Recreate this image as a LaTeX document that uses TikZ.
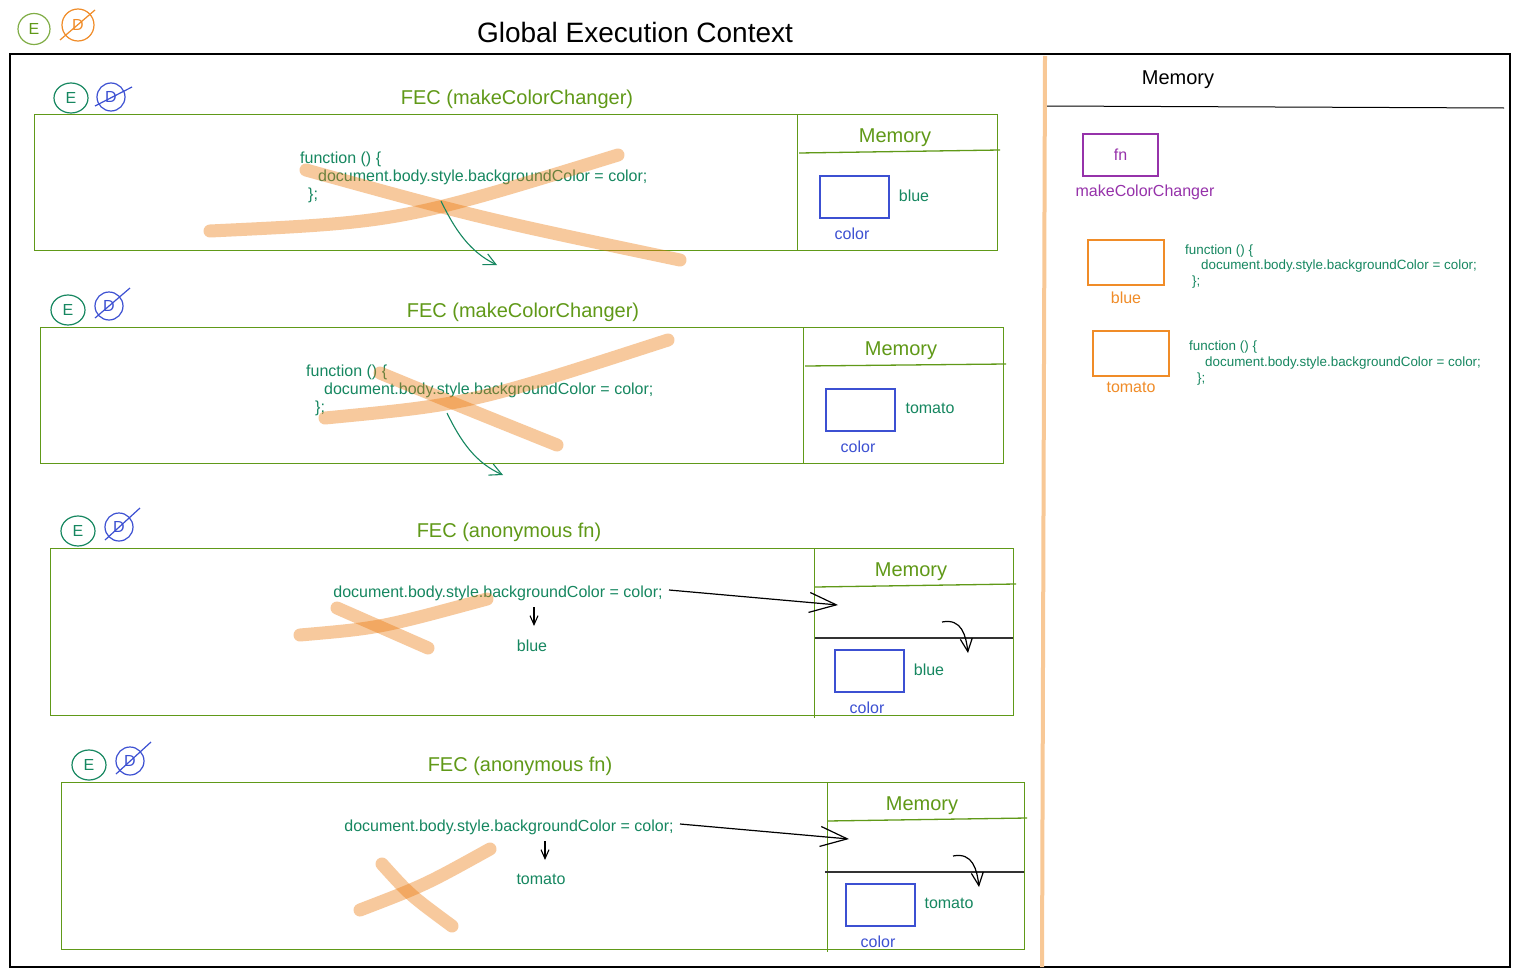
\documentclass[tikz,border=0pt]{standalone}
\usepackage{fontspec}
\setmainfont{Liberation Sans}
\usetikzlibrary{arrows.meta,shapes.geometric}
\definecolor{cOlive}{RGB}{96,153,24}
\definecolor{cTeal}{RGB}{22,135,96}
\definecolor{cBlue}{RGB}{60,80,210}
\definecolor{cPurple}{RGB}{150,50,170}
\definecolor{cOrange}{RGB}{240,140,40}
\definecolor{cCross}{RGB}{235,120,10}
\definecolor{cVert}{RGB}{248,200,150}
\tikzset{
  ttl/.style={font=\fontsize{28}{34}\selectfont},
  hd/.style={font=\fontsize{20}{24}\selectfont, text=cOlive, yshift=-2pt},
  codel/.style={font=\fontsize{16}{19}\selectfont, text=cTeal, anchor=west, inner sep=0pt, yshift=-2pt},
  lbl/.style={font=\fontsize{16}{19}\selectfont, inner sep=0pt, yshift=-1.5pt},
  smallcode/.style={font=\fontsize{13.4}{16}\selectfont, text=cTeal, anchor=west, inner sep=0pt, yshift=-2pt},
  fecbox/.style={draw=cOlive, line width=1pt},
  memline/.style={draw=cOlive, line width=1.3pt},
  cross/.style={draw=cCross, line width=13pt, line cap=round, draw opacity=0.4},
  ecirc/.style={ellipse, draw, line width=1.2pt, minimum width=34pt, minimum height=30pt, inner sep=0pt, font=\fontsize{16}{19}\selectfont},
  dcirc/.style={circle, draw, line width=1.2pt, minimum size=28pt, inner sep=0pt, font=\fontsize{16}{19}\selectfont},
  varbox/.style={draw, line width=1.2pt, inner sep=0pt},
  greenarr/.style={draw=cTeal, line width=1.1pt, -{Straight Barb[length=12pt,width=12pt]}},
  bigarr/.style={draw=black, line width=1.2pt, -{Straight Barb[length=27pt,width=20pt]}},
  smallarr/.style={draw=black, line width=1.1pt, -{Straight Barb[length=9pt,width=8pt]}},
  hookarr/.style={draw=black, line width=1.2pt, -{Straight Barb[length=13pt,width=12pt]}},
}
\begin{document}
\begin{tikzpicture}[x=1pt,y=-1pt]
\useasboundingbox (0,0) rectangle (1520,977);
\fill[white] (0,0) rectangle (1520,977);

% title and frame
\node[ttl] (title) at (635,32) {Global Execution Context};
\draw[black, line width=1.3pt] (10,54) rectangle (1510,967);
\node[ecirc, draw=cOlive!80, text=cOlive, minimum width=32pt, minimum height=31pt] (e0) at (34,29) {E};
\node[dcirc, draw=cOrange, text=cOrange, minimum size=32pt] (d0) at (78,25) {D};
\coordinate (d0a) at (60,40); \coordinate (d0b) at (95,10);
\draw[cOrange, line width=1.2pt] (d0a) -- (d0b);

% vertical separator
\coordinate (vs1) at (1045,56); \coordinate (vs2) at (1042,967);
\draw[cVert, line width=4pt] (vs1) -- (vs2);

% right memory panel
\node[font=\fontsize{20}{24}\selectfont, yshift=-2pt] (gmem) at (1178,78) {Memory};
\coordinate (gl1) at (1047,106); \coordinate (gl2) at (1504,108);
\draw[black, line width=1pt] (gl1) -- (gl2);
\node[varbox, draw=cPurple, text=cPurple, minimum width=75pt, minimum height=42pt, font=\fontsize{16}{19}\selectfont] (fnbox) at (1120.5,155) {fn};
\node[lbl, text=cPurple] (mcc) at (1145,191) {makeColorChanger};
\node[varbox, draw=cOrange, minimum width=76pt, minimum height=45pt] (gblue) at (1126,262.5) {};
\node[lbl, text=cOrange] (gbluet) at (1126,296) {blue};
\node[smallcode] (gc1) at (1185,249) {function () \{};
\node[smallcode] (gc2) at (1201,264.5) {document.body.style.backgroundColor = color;};
\node[smallcode] (gc3) at (1192,280) {\};};
\node[varbox, draw=cOrange, minimum width=76pt, minimum height=45pt] (gtom) at (1131,353.5) {};
\node[lbl, text=cOrange] (gtomt) at (1131,386) {tomato};
\node[smallcode] (gd1) at (1189,345) {function () \{};
\node[smallcode] (gd2) at (1205,361) {document.body.style.backgroundColor = color;};
\node[smallcode] (gd3) at (1197,377) {\};};

% ===== FEC 1 =====
\node[ecirc, draw=cTeal, text=cTeal] (e1) at (71,98) {E};
\node[dcirc, draw=cBlue, text=cBlue] (d1) at (111,97) {D};
\coordinate (d1a) at (95,106); \coordinate (d1b) at (132,87);
\draw[cBlue, line width=1.2pt] (d1a) -- (d1b);
\node[hd] (f1t) at (517,97) {FEC (makeColorChanger)};
\draw[fecbox] (34,114) rectangle (997,250);
\draw[fecbox] (797,114) -- (797,250);
\node[hd] (m1) at (895,136) {Memory};
\draw[memline] (799,153) -- (1000,150);
\node[codel] (c1a) at (300,157) {function () \{};
\node[codel] (c1b) at (318,175) {document.body.style.backgroundColor = color;};
\node[codel] (c1c) at (308,193) {\};};
\node[varbox, draw=cBlue, minimum width=69pt, minimum height=42pt] (v1) at (854.5,197) {};
\node[lbl, text=cTeal] (v1v) at (914,194) {blue};
\node[lbl, text=cBlue] (v1n) at (852,232) {color};
\draw[cross] (210,231) .. controls (400,222) .. (618,155);
\draw[cross] (306,170) .. controls (480,218) .. (680,260);
\coordinate (a1s) at (441,201); \coordinate (a1e) at (497,265);
\draw[greenarr] (a1s) .. controls (455,230) and (470,252) .. (a1e);

% ===== FEC 2 =====
\node[ecirc, draw=cTeal, text=cTeal] (e2) at (68,310) {E};
\node[dcirc, draw=cBlue, text=cBlue] (d2) at (109,306) {D};
\coordinate (d2a) at (95,318); \coordinate (d2b) at (130,288);
\draw[cBlue, line width=1.2pt] (d2a) -- (d2b);
\node[hd] (f2t) at (523,310) {FEC (makeColorChanger)};
\draw[fecbox] (40,327) rectangle (1003,463);
\draw[fecbox] (803,327) -- (803,463);
\node[hd] (m2) at (901,349) {Memory};
\draw[memline] (805,366) -- (1006,364);
\node[codel] (c2a) at (306,370) {function () \{};
\node[codel] (c2b) at (324,388) {document.body.style.backgroundColor = color;};
\node[codel] (c2c) at (315,406) {\};};
\node[varbox, draw=cBlue, minimum width=69pt, minimum height=42pt] (v2) at (860.5,410) {};
\node[lbl, text=cTeal] (v2v) at (930,407) {tomato};
\node[lbl, text=cBlue] (v2n) at (858,445) {color};
\draw[cross] (325,418) .. controls (470,404) .. (668,340);
\draw[cross] (380,373) .. controls (465,408) .. (557,445);
\coordinate (a2s) at (447,413); \coordinate (a2e) at (503,475);
\draw[greenarr] (a2s) .. controls (461,442) and (476,463) .. (a2e);

% ===== FEC 3 =====
\node[ecirc, draw=cTeal, text=cTeal] (e3) at (78,531) {E};
\node[dcirc, draw=cBlue, text=cBlue] (d3) at (119,527) {D};
\coordinate (d3a) at (105,540); \coordinate (d3b) at (140,508);
\draw[cBlue, line width=1.2pt] (d3a) -- (d3b);
\node[hd] (f3t) at (509,530) {FEC (anonymous fn)};
\draw[fecbox] (50,548) rectangle (1013,715);
\draw[fecbox] (814,548) -- (814,718);
\node[hd] (m3) at (911,570) {Memory};
\draw[memline] (815,587) -- (1016,584);
\draw[black!80, line width=2pt] (815,638) -- (1013,638);
\node[codel, anchor=center] (c3) at (498,591) {document.body.style.backgroundColor = color;};
\node[lbl, text=cTeal] (r3) at (532,644) {blue};
\coordinate (s3a) at (534,607); \coordinate (s3b) at (534,626);
\draw[smallarr] (s3a) -- (s3b);
\coordinate (b3s) at (669,590); \coordinate (b3e) at (838,605);
\draw[bigarr] (b3s) -- (b3e);
\coordinate (h3s) at (942,622); \coordinate (h3e) at (968,653);
\draw[hookarr] (h3s) .. controls (962,618) and (966,636) .. (h3e);
\node[varbox, draw=cBlue, minimum width=69pt, minimum height=42pt] (v3) at (869.5,671) {};
\node[lbl, text=cTeal] (v3v) at (929,668) {blue};
\node[lbl, text=cBlue] (v3n) at (867,706) {color};
\draw[cross] (300,635) .. controls (380,628) .. (487,599);
\draw[cross] (337,608) -- (428,648);

% ===== FEC 4 =====
\node[ecirc, draw=cTeal, text=cTeal] (e4) at (89,765) {E};
\node[dcirc, draw=cBlue, text=cBlue] (d4) at (130,761) {D};
\coordinate (d4a) at (116,774); \coordinate (d4b) at (151,742);
\draw[cBlue, line width=1.2pt] (d4a) -- (d4b);
\node[hd] (f4t) at (520,764) {FEC (anonymous fn)};
\draw[fecbox] (61,782) rectangle (1024,949);
\draw[fecbox] (827,782) -- (827,952);
\node[hd] (m4) at (922,804) {Memory};
\draw[memline] (827,821) -- (1027,818);
\draw[black!80, line width=2pt] (825,872) -- (1024,872);
\node[codel, anchor=center] (c4) at (509,825) {document.body.style.backgroundColor = color;};
\node[lbl, text=cTeal] (r4) at (541,878) {tomato};
\coordinate (s4a) at (545,841); \coordinate (s4b) at (545,860);
\draw[smallarr] (s4a) -- (s4b);
\coordinate (b4s) at (680,824); \coordinate (b4e) at (849,839);
\draw[bigarr] (b4s) -- (b4e);
\coordinate (h4s) at (953,856); \coordinate (h4e) at (979,887);
\draw[hookarr] (h4s) .. controls (973,852) and (977,870) .. (h4e);
\node[varbox, draw=cBlue, minimum width=69pt, minimum height=42pt] (v4) at (880.5,905) {};
\node[lbl, text=cTeal] (v4v) at (949,902) {tomato};
\node[lbl, text=cBlue] (v4n) at (878,940) {color};
\draw[cross] (360,910) .. controls (425,885) .. (490,849);
\draw[cross] (382,864) .. controls (410,895) .. (452,926);
\end{tikzpicture}
\end{document}
